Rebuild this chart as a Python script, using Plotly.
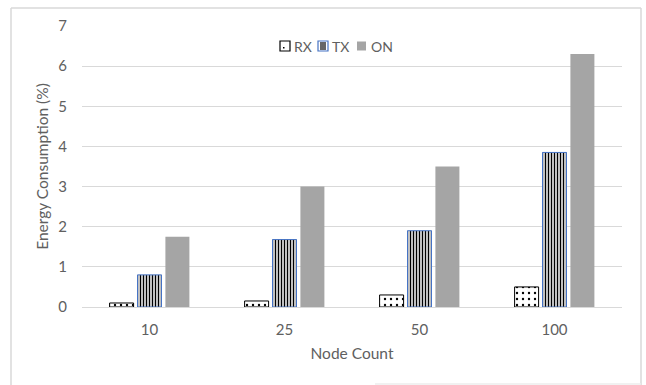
import plotly.graph_objects as go

# Node counts on the x axis and energy consumption (%) per radio state
node_counts = ["10", "25", "50", "100"]
rx_values = [0.1, 0.15, 0.3, 0.5]
tx_values = [0.8, 1.68, 1.9, 3.85]
on_values = [1.75, 3.0, 3.5, 6.3]
y_ticks = [0, 1, 2, 3, 4, 5, 6, 7]
series_names = ["RX", "TX", "ON"]

FONT = "Lato"
TEXT_GREY = "#606060"
GRID_GREY = "#D9D9D9"
TX_EDGE = "#4472C4"
ON_GREY = "#A5A5A5"

# plot-area geometry in pixels, used to place decorations in paper units
L, R, T, B, W, H = 82, 24, 26, 78, 646, 385
PW, PH = W - L - R, H - T - B


def px(x):
    return (x - L) / PW


def py(y):
    return (H - B - y) / PH


fig = go.Figure()

fig.add_trace(go.Bar(
    name=series_names[0], x=node_counts, y=rx_values,
    marker=dict(
        color="white",
        line=dict(color="black", width=1),
        pattern=dict(shape=".", fgcolor="black", bgcolor="white",
                     size=6, solidity=0.12, fillmode="replace"),
    ),
))
fig.add_trace(go.Bar(
    name=series_names[1], x=node_counts, y=tx_values,
    marker=dict(
        color="white",
        line=dict(color=TX_EDGE, width=1),
        pattern=dict(shape="|", fgcolor="black", bgcolor="white",
                     size=3, solidity=0.5, fillmode="replace"),
    ),
))
fig.add_trace(go.Bar(
    name=series_names[2], x=node_counts, y=on_values,
    marker=dict(color=ON_GREY, line=dict(width=0)),
))

fig.update_layout(
    width=W, height=H,
    margin=dict(l=L, r=R, t=T, b=B),
    paper_bgcolor="white", plot_bgcolor="white",
    barmode="group", bargap=0.38, bargroupgap=0.14,
    font=dict(family=FONT, color=TEXT_GREY, size=15),
    showlegend=False,
    xaxis=dict(
        showgrid=False, showline=True, linecolor=GRID_GREY, linewidth=1,
        ticks="", ticklabelstandoff=9,
        tickfont=dict(family=FONT, size=15, color=TEXT_GREY),
        title=dict(text="Node Count", font=dict(family=FONT, size=15.5, color=TEXT_GREY), standoff=11),
    ),
    yaxis=dict(
        range=[0, 7], tickvals=y_ticks, showgrid=True, gridcolor=GRID_GREY, gridwidth=1,
        zeroline=False, showline=False, ticks="", ticklabelstandoff=14,
        tickfont=dict(family=FONT, size=15, color=TEXT_GREY),
        title=dict(text="Energy Consumption (%)", font=dict(family=FONT, size=15.5, color=TEXT_GREY), standoff=5),
    ),
)

# Compact legend row: small swatches followed by their labels
ly = 46
sw = 10
legend_x = [280, 318, 357]
for name, x0 in zip(series_names, legend_x):
    if name == "RX":
        fig.add_shape(type="rect", xref="paper", yref="paper",
                      x0=px(x0), x1=px(x0 + sw), y0=py(ly + sw / 2), y1=py(ly - sw / 2),
                      line=dict(color="black", width=1.2), fillcolor="white")
        fig.add_shape(type="rect", xref="paper", yref="paper",
                      x0=px(x0 + 3), x1=px(x0 + 4.5), y0=py(ly + 2.5), y1=py(ly + 1),
                      line=dict(width=0), fillcolor="black")
    elif name == "TX":
        fig.add_shape(type="rect", xref="paper", yref="paper",
                      x0=px(x0), x1=px(x0 + sw), y0=py(ly + sw / 2), y1=py(ly - sw / 2),
                      line=dict(color=TX_EDGE, width=1.2), fillcolor="white")
        for k in (3, 5, 7):
            fig.add_shape(type="line", xref="paper", yref="paper",
                          x0=px(x0 + k), x1=px(x0 + k), y0=py(ly + sw / 2 - 1), y1=py(ly - sw / 2 + 1),
                          line=dict(color="black", width=1.2))
    else:
        fig.add_shape(type="rect", xref="paper", yref="paper",
                      x0=px(x0), x1=px(x0 + sw - 1), y0=py(ly + sw / 2 - 0.5), y1=py(ly - sw / 2 + 0.5),
                      line=dict(width=0), fillcolor=ON_GREY)
    fig.add_annotation(xref="paper", yref="paper", x=px(x0 + sw + 2), y=py(ly),
                       text=name, showarrow=False, xanchor="left", yanchor="middle",
                       font=dict(family=FONT, size=14, color=TEXT_GREY))

# Light outer frame around the chart area
fig.add_shape(type="line", xref="paper", yref="paper",
              x0=px(11), x1=px(11), y0=py(8), y1=py(400),
              line=dict(color=GRID_GREY, width=1.5))
fig.add_shape(type="line", xref="paper", yref="paper",
              x0=px(11), x1=px(641), y0=py(8), y1=py(8),
              line=dict(color=GRID_GREY, width=1.5))
fig.add_shape(type="line", xref="paper", yref="paper",
              x0=px(641), x1=px(641), y0=py(8), y1=py(400),
              line=dict(color=GRID_GREY, width=1.5))
fig.add_shape(type="line", xref="paper", yref="paper",
              x0=px(375), x1=px(641), y0=py(384), y1=py(384),
              line=dict(color="#EDEDED", width=1.5))

fig.write_html("out.html")
